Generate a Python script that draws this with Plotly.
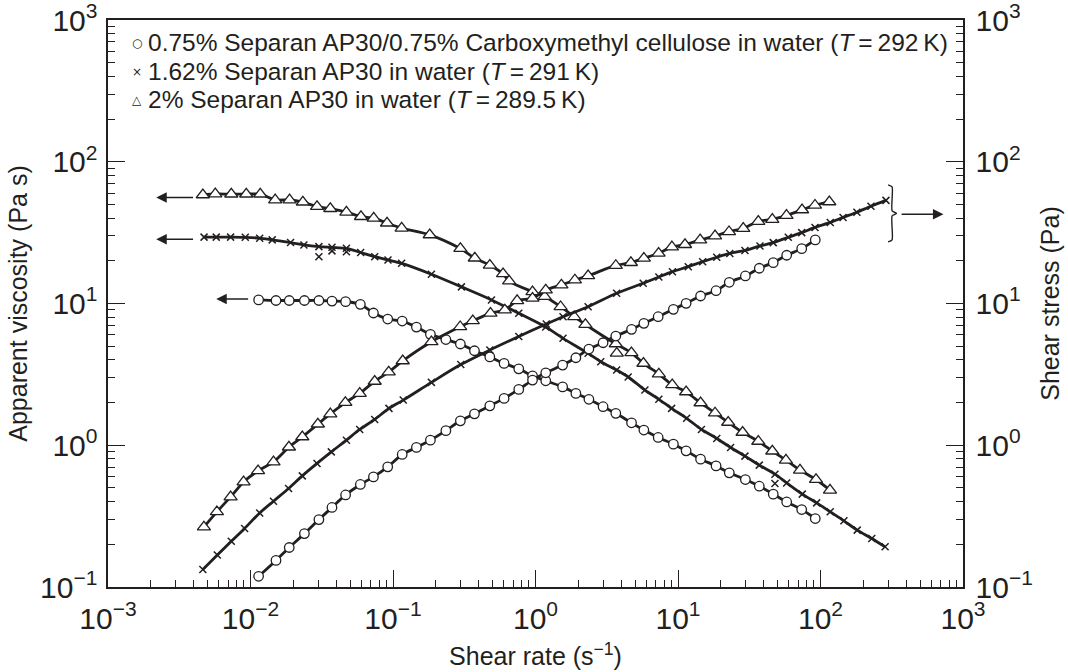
import math
import plotly.graph_objects as go

INK = "#231f20"
FONT = "Liberation Sans, Arial, Helvetica, sans-serif"

# ---- 0.75% Separan AP30 / 0.75% CMC in water (circles) ----
rate_c = [0.0114, 0.0151, 0.0187, 0.0239, 0.0302, 0.0373, 0.0465, 0.0590, 0.0729, 0.0918,
          0.116, 0.146, 0.183, 0.235, 0.297, 0.373, 0.478, 0.602, 0.763, 0.953,
          1.18, 1.55, 1.92, 2.37, 2.98, 3.66, 4.72, 5.76, 7.26, 9.28,
          11.4, 14.4, 18.5, 22.9, 29.7, 37.2, 46.6, 57.9, 73.8, 91.9]
visc_c = [10.6, 10.5, 10.5, 10.5, 10.5, 10.4, 10.3, 9.87, 8.57, 7.77,
          7.52, 6.82, 6.06, 5.57, 5.18, 4.64, 4.20, 3.78, 3.46, 3.09,
          2.85, 2.58, 2.32, 2.11, 1.87, 1.68, 1.44, 1.28, 1.135, 1.018,
          0.913, 0.798, 0.715, 0.639, 0.573, 0.514, 0.452, 0.398, 0.352, 0.304]
stress_c = [0.119, 0.154, 0.190, 0.238, 0.299, 0.364, 0.446, 0.529, 0.598, 0.704,
            0.861, 0.965, 1.086, 1.268, 1.487, 1.666, 1.897, 2.141, 2.478, 2.883,
            3.245, 3.679, 4.142, 4.772, 5.287, 5.895, 6.573, 7.248, 8.069, 9.10,
            10.03, 11.30, 12.31, 14.11, 15.64, 17.73, 19.42, 21.90, 24.38, 28.08]

# ---- 1.62% Separan AP30 in water (crosses) ----
rate_x_visc = [0.00472, 0.00575, 0.00725, 0.00919, 0.0116, 0.0142, 0.0191, 0.0237, 0.0302, 0.0373,
               0.0471, 0.0593, 0.0744, 0.0922, 0.115, 0.186, 0.302, 0.491, 0.763, 1.18,
               1.56, 2.34, 2.87, 3.71, 4.47, 5.86, 7.34, 9.02, 11.5, 14.6,
               18.7, 23.4, 29.5, 37.2, 47.9, 57.9, 74.5, 94.0, 117, 146,
               181, 229, 284]
visc_x = [29.4, 29.4, 29.4, 29.3, 28.9, 28.1, 26.9, 25.9, 25.2, 24.9,
          24.5, 22.9, 21.4, 20.3, 19.2, 16.1, 13.1, 10.6, 8.53, 6.82,
          5.68, 4.45, 3.88, 3.39, 3.03, 2.45, 2.11, 1.82, 1.55, 1.293,
          1.117, 0.965, 0.838, 0.724, 0.625, 0.542, 0.452, 0.392, 0.339, 0.293,
          0.252, 0.220, 0.192]
rate_x_visc_stray = [0.0302, 0.0373, 0.0471, 47.9]
visc_x_stray = [21.4, 23.5, 23.2, 0.537]
rate_x_stress = [0.00463, 0.00585, 0.00733, 0.00909, 0.0116, 0.0145, 0.0185, 0.0231, 0.0293, 0.0369,
                 0.0471, 0.0584, 0.0744, 0.0937, 0.118, 0.186, 0.299, 0.478, 0.763, 1.19,
                 1.56, 2.34, 3.71, 5.70, 7.34, 9.14, 11.8, 14.9, 18.7, 23.1,
                 29.5, 37.6, 46.6, 59.4, 73.8, 91.5, 117, 144, 180, 226, 288]
stress_x = [0.133, 0.168, 0.210, 0.259, 0.333, 0.403, 0.495, 0.608, 0.744, 0.898,
            1.086, 1.293, 1.521, 1.820, 2.083, 2.777, 3.709, 4.694, 5.848, 7.165,
            8.069, 9.493, 11.80, 13.89, 15.39, 16.77, 18.19, 19.73, 21.20, 22.55,
            23.68, 25.47, 26.88, 29.35, 31.62, 34.41, 37.33, 40.49, 44.07, 48.58, 53.39]

# ---- 2% Separan AP30 in water (triangles) ----
rate_t_visc = [0.00463, 0.00566, 0.00733, 0.00934, 0.0117, 0.0149, 0.0188, 0.0233, 0.0293, 0.0363,
               0.0471, 0.0596, 0.0732, 0.0908, 0.115, 0.181, 0.297, 0.375, 0.478, 0.592,
               0.653, 0.953, 1.16, 1.50, 1.87, 2.24, 3.66, 4.71, 5.72, 7.34,
               9.11, 11.4, 14.4, 18.2, 22.5, 28.4, 36.6, 45.9, 57.2, 71.8,
               93.0, 116.6]
visc_t = [58.4, 59.3, 59.1, 59.1, 59.1, 53.8, 53.8, 51.9, 48.3, 46.7,
          44.1, 41.0, 40.0, 36.9, 34.0, 30.5, 24.4, 20.9, 18.6, 16.2,
          14.4, 12.1, 11.2, 9.49, 8.07, 7.11, 5.19, 4.49, 3.78, 3.18,
          2.67, 2.38, 1.99, 1.69, 1.45, 1.233, 1.065, 0.909, 0.785, 0.667,
          0.573, 0.482]
rate_t_visc_stray = [3.72]
visc_t_stray = [4.45]
rate_t_stress = [0.00471, 0.00581, 0.00725, 0.00894, 0.0113, 0.0145, 0.0186, 0.0231, 0.0297, 0.0363,
                 0.0463, 0.0584, 0.0744, 0.0933, 0.117, 0.186, 0.296, 0.363, 0.483, 0.609,
                 0.743, 0.953, 1.18, 1.52, 1.89, 2.34, 3.66, 4.67, 5.76, 7.31,
                 9.06, 11.2, 14.3, 18.2, 22.8, 28.7, 36.6, 45.9, 57.7, 74.2,
                 91.5, 115.3]
stress_t = [0.265, 0.339, 0.432, 0.551, 0.660, 0.763, 0.970, 1.146, 1.409, 1.663,
            2.000, 2.321, 2.822, 3.282, 3.938, 5.373, 6.859, 7.559, 8.528, 8.996,
            10.47, 10.88, 12.45, 13.51, 14.66, 15.69, 18.55, 19.42, 20.86, 22.62,
            25.06, 26.02, 28.08, 29.97, 32.09, 33.87, 37.94, 39.19, 41.83, 45.75,
            49.37, 52.11]

# ---- axis labels: powers of ten written out as 10^0 and 10^1 too ----
plain_labels = ["1", "10"]
power_labels = ["10<sup>0</sup>", "10<sup>1</sup>"]
tick_alias = dict(zip(plain_labels, power_labels))

legend_symbols = ["\u25cb", "\u00d7", "\u25b3"]
legend_labels = [
    "0.75% Separan AP30/0.75% Carboxymethyl cellulose in water (<i>T</i>\u2009=\u2009292\u2009K)",
    "1.62% Separan AP30 in water (<i>T</i>\u2009=\u2009291\u2009K)",
    "2% Separan AP30 in water (<i>T</i>\u2009=\u2009289.5\u2009K)",
]

# arrows pointing to the zero-shear plateaus: (tail rate, head rate, viscosity)
plateau_arrows = [(0.00405, 0.00218, 55.9), (0.00405, 0.00218, 28.4), (0.00986, 0.00575, 10.76)]
# arrow pointing from the stress curves to the right-hand axis: (tail, head, stress)
stress_arrow = (362, 729, 42.7)
# curly brace grouping the ends of the stress curves
brace_rate = [298, 318, 318, 341, 318, 318, 298]
brace_stress = [68.7, 66.5, 45.0, 43.2, 41.5, 28.1, 27.2]

circle_marker = dict(symbol="circle", size=9.5, color="white", line=dict(color=INK, width=1.3))
triangle_marker = dict(symbol="triangle-up", size=11.5, color="white", line=dict(color=INK, width=1.3))
cross_marker = dict(symbol="x-thin", size=7, color=INK, line=dict(color=INK, width=1.5))
curve_line = dict(color=INK, width=2.8, shape="spline", smoothing=0.8)

fig = go.Figure()


def add_curve(x, y, marker, yaxis):
    fig.add_trace(go.Scatter(x=x, y=y, mode="lines+markers", line=curve_line, marker=marker,
                             yaxis=yaxis, showlegend=False, hoverinfo="x+y"))


def add_points(x, y, marker, yaxis):
    fig.add_trace(go.Scatter(x=x, y=y, mode="markers", marker=marker,
                             yaxis=yaxis, showlegend=False, hoverinfo="x+y"))


# apparent viscosity (left axis)
add_curve(rate_t_visc, visc_t, triangle_marker, "y")
add_points(rate_t_visc_stray, visc_t_stray, triangle_marker, "y")
add_curve(rate_x_visc, visc_x, cross_marker, "y")
add_points(rate_x_visc_stray, visc_x_stray, cross_marker, "y")
add_curve(rate_c, visc_c, circle_marker, "y")

# shear stress (right axis)
add_curve(rate_t_stress, stress_t, triangle_marker, "y2")
add_curve(rate_x_stress, stress_x, cross_marker, "y2")
add_curve(rate_c, stress_c, circle_marker, "y2")

fig.add_trace(go.Scatter(x=brace_rate, y=brace_stress, mode="lines", yaxis="y2",
                         line=dict(color=INK, width=1.4, shape="spline", smoothing=0.6),
                         showlegend=False, hoverinfo="skip"))

annotations = []
for tail, head, level in plateau_arrows + [stress_arrow]:
    annotations.append(dict(x=math.log10(head), y=math.log10(level), ax=math.log10(tail),
                            ay=math.log10(level), xref="x", yref="y", axref="x", ayref="y",
                            text="", showarrow=True, arrowhead=2, arrowsize=1.4,
                            arrowwidth=1.5, arrowcolor=INK))

# key in the upper-left corner
key_rows = [0.960, 0.909, 0.859]
for sym, label, row in zip(legend_symbols, legend_labels, key_rows):
    annotations.append(dict(x=0.0335, y=row, xref="paper", yref="paper", text=sym,
                            showarrow=False, xanchor="center", yanchor="middle",
                            font=dict(family="DejaVu Sans", size=12, color=INK)))
    annotations.append(dict(x=0.0445, y=row, xref="paper", yref="paper", text=label,
                            showarrow=False, xanchor="left", yanchor="middle",
                            font=dict(family=FONT, size=24.5, color=INK)))

axis_common = dict(
    type="log", showline=True, linecolor=INK, linewidth=1.5, showgrid=False, zeroline=False,
    automargin=False, ticklabeloverflow="allow",
    tickmode="linear", tick0=0, dtick=1, exponentformat="power", labelalias=tick_alias,
    ticks="inside", ticklen=17, tickwidth=1.3, tickcolor=INK,
    tickfont=dict(family=FONT, size=24, color=INK),
    minor=dict(dtick="D1", ticks="inside", ticklen=7, tickwidth=1.1, tickcolor=INK,
               showgrid=False),
)

fig.update_layout(
    width=1068, height=672,
    margin=dict(l=108, r=105, t=20, b=85),
    paper_bgcolor="white", plot_bgcolor="white",
    font=dict(family=FONT, color=INK),
    xaxis=dict(range=[-3, 3], mirror=True, ticklabelstandoff=5,
               title=dict(text="Shear rate (s<sup>\u22121</sup>)", font=dict(size=25), standoff=14),
               **axis_common),
    yaxis=dict(range=[-1, 3], ticklabelstandoff=4,
               title=dict(text="Apparent viscosity (Pa s)", font=dict(size=25), standoff=5),
               **axis_common),
    yaxis2=dict(range=[-1, 3], overlaying="y", side="right", ticklabelstandoff=6,
                title=dict(text="Shear stress (Pa)", font=dict(size=25), standoff=10),
                **axis_common),
    annotations=annotations,
    showlegend=False,
)

fig.write_html("out.html")
